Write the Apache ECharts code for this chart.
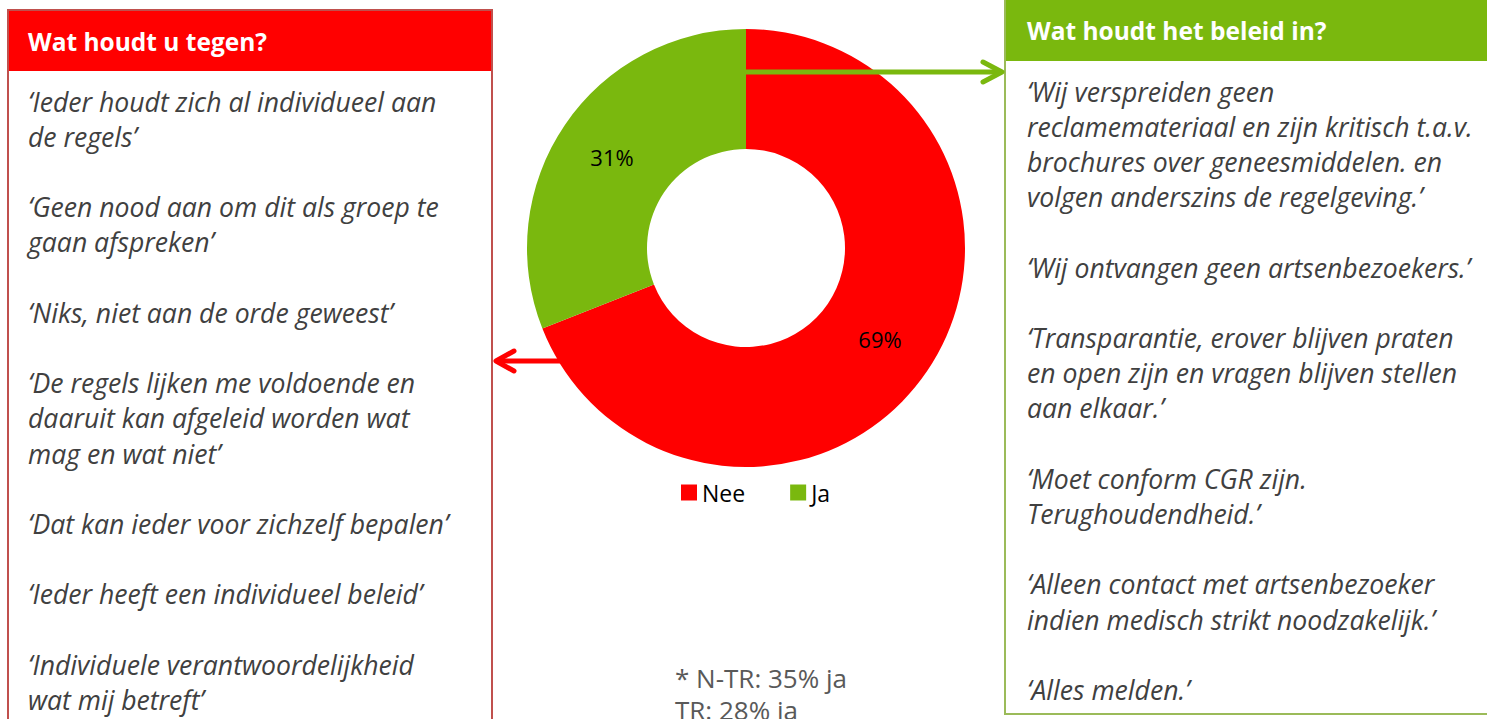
<!DOCTYPE html>
<html>
<head>
<meta charset="utf-8">
<script src="https://cdn.jsdelivr.net/npm/echarts@6/dist/echarts.min.js"></script>
<style>
  html, body { margin: 0; padding: 0; background: #fff; }
  #chart { width: 1487px; height: 719px; }
</style>
</head>
<body>
<div id="chart"></div>
<script>
var categories = ['Nee', 'Ja'];
var shares = [69, 31];
var colors = ['#ff0000', '#7ab80e'];

var leftTitle = 'Wat houdt u tegen?';
var leftQuotes = [
  '‘Ieder houdt zich al individueel aan\nde regels’',
  '‘Geen nood aan om dit als groep te\ngaan afspreken’',
  '‘Niks, niet aan de orde geweest’',
  '‘De regels lijken me voldoende en\ndaaruit kan afgeleid worden wat\nmag en wat niet’',
  '‘Dat kan ieder voor zichzelf bepalen’',
  '‘Ieder heeft een individueel beleid’',
  '‘Individuele verantwoordelijkheid\nwat mij betreft’'
];
var rightTitle = 'Wat houdt het beleid in?';
var rightQuotes = [
  '‘Wij verspreiden geen\nreclamemateriaal en zijn kritisch t.a.v.\nbrochures over geneesmiddelen. en\nvolgen anderszins de regelgeving.’',
  '‘Wij ontvangen geen artsenbezoekers.’',
  '‘Transparantie, erover blijven praten\nen open zijn en vragen blijven stellen\naan elkaar.’',
  '‘Moet conform CGR zijn.\nTerughoudendheid.’',
  '‘Alleen contact met artsenbezoeker\nindien medisch strikt noodzakelijk.’',
  '‘Alles melden.’'
];
var footnote1 = '* N-TR: 35% ja';
var footnote2 = 'TR: 28% ja';

var font = '"Open Sans", "Noto Sans", sans-serif';
var quoteStyle = {
  fill: '#404040',
  font: 'italic 26.6px ' + font,
  lineHeight: 35.2,
  textVerticalAlign: 'top'
};

var chart = echarts.init(document.getElementById('chart'), null, { renderer: 'svg' });
chart.setOption({
  animation: false,
  legend: {
    data: categories,
    left: 681,
    top: 481,
    padding: 0,
    icon: 'rect',
    itemWidth: 16,
    itemHeight: 16,
    itemGap: 45,
    textStyle: { color: '#000', fontSize: 23, fontFamily: font }
  },
  series: [{
    type: 'pie',
    center: [746, 248],
    radius: [99, 219],
    startAngle: 90,
    clockwise: true,
    silent: true,
    label: {
      show: true,
      position: 'inside',
      color: '#000',
      fontSize: 22,
      fontFamily: font,
      formatter: '{c}%'
    },
    labelLine: { show: false },
    data: categories.map(function(n, i) {
      return { name: n, value: shares[i], itemStyle: { color: colors[i] } };
    })
  }],
  graphic: [
    // left box
    { type: 'rect', shape: { x: 8, y: 10, width: 484, height: 730 }, style: { fill: '#fff', stroke: '#c0504d', lineWidth: 2 }, z: -1 },
    { type: 'rect', shape: { x: 9, y: 11, width: 482, height: 60 }, style: { fill: '#ff0000' } },
    { type: 'text', x: 28, y: 41, style: { text: leftTitle, fill: '#fff', font: 'bold 24.5px ' + font, textVerticalAlign: 'middle' } },
    { type: 'text', x: 28, y: 84, style: Object.assign({ text: leftQuotes.join('\n\n') }, quoteStyle) },
    // right box
    { type: 'rect', shape: { x: 1005, y: -10, width: 500, height: 724 }, style: { fill: '#fff', stroke: '#9bbb59', lineWidth: 2 }, z: -1 },
    { type: 'rect', shape: { x: 1006, y: 0, width: 490, height: 61 }, style: { fill: '#7ab80e' } },
    { type: 'text', x: 1027, y: 30, style: { text: rightTitle, fill: '#fff', font: 'bold 24.5px ' + font, textVerticalAlign: 'middle' } },
    { type: 'text', x: 1027, y: 74, style: Object.assign({ text: rightQuotes.join('\n\n') }, quoteStyle) },
    // arrows
    { type: 'polyline', shape: { points: [[746, 72], [1002, 72]] }, style: { stroke: '#7ab80e', lineWidth: 5 }, z: 10 },
    { type: 'polyline', shape: { points: [[983, 62], [1002, 72], [983, 82]] }, style: { stroke: '#7ab80e', lineWidth: 5, lineCap: 'round', lineJoin: 'round', fill: 'none' }, z: 10 },
    { type: 'polyline', shape: { points: [[562, 361], [496, 361]] }, style: { stroke: '#ff0000', lineWidth: 5 }, z: 10 },
    { type: 'polyline', shape: { points: [[514, 351], [496, 361], [514, 371]] }, style: { stroke: '#ff0000', lineWidth: 5, lineCap: 'round', lineJoin: 'round', fill: 'none' }, z: 10 },
    // footnote (second line runs off the bottom, as in the slide)
    { type: 'text', x: 675, y: 678, style: { text: footnote1, fill: '#595959', font: '26px ' + font, textVerticalAlign: 'middle' } },
    { type: 'text', x: 675, y: 710, style: { text: footnote2, fill: '#595959', font: '26px ' + font, textVerticalAlign: 'middle' } }
  ]
});
window.addEventListener('resize', function() { chart.resize(); });
</script>
</body>
</html>
